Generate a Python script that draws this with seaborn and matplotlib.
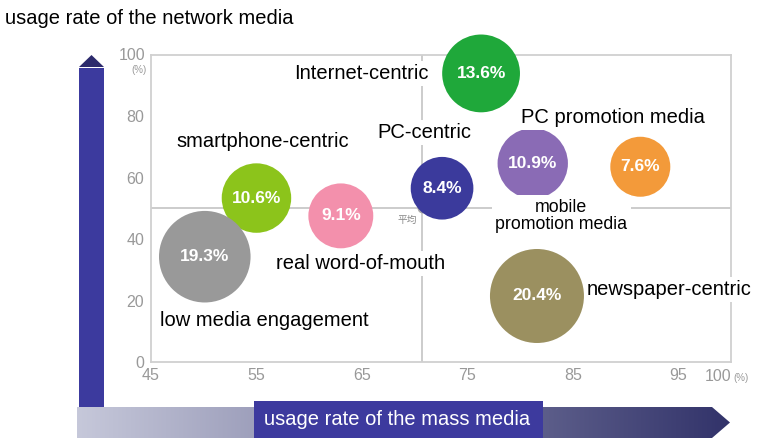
import numpy as np
import pandas as pd
import matplotlib
matplotlib.use("Agg")
import matplotlib.pyplot as plt
from matplotlib.patches import Polygon, Rectangle
import seaborn as sns

# ---- data -------------------------------------------------------------
categories = ["Internet-centric", "smartphone-centric", "low media engagement",
              "real word-of-mouth", "PC-centric", "mobile promotion media",
              "PC promotion media", "newspaper-centric"]
mass_rate = [76.3, 55.0, 50.1, 63.0, 72.6, 81.2, 91.4, 81.6]      # x, %
network_rate = [94.0, 53.4, 34.3, 47.6, 56.6, 64.7, 63.6, 21.5]   # y, %
share = [13.6, 10.6, 19.3, 9.1, 8.4, 10.9, 7.6, 20.4]             # bubble, %
colors = ["#1fa83a", "#8cc41b", "#999999", "#f390ac",
          "#3b3a9c", "#8a6bb5", "#f39a3a", "#9b9060"]
avg_mass = 70.7
avg_network = 50.0
x_ticks = [45, 55, 65, 75, 85, 95]
y_ticks = [0, 20, 40, 60, 80]

# label text and anchor (data coords) for each group
label_text = ["Internet-centric", "smartphone-centric", "low media engagement",
              "real word-of-mouth", "PC-centric", "mobile\npromotion media",
              "PC promotion media", "newspaper-centric"]
label_x = [64.95, 55.56, 55.7, 64.86, 70.96, 83.9, 88.8, 94.15]
label_y = [94.1, 71.7, 13.4, 32.2, 74.6, 47.6, 79.8, 23.5]

df = pd.DataFrame({"group": categories, "mass": mass_rate,
                   "network": network_rate, "share": share})

sns.set_style("white")
plt.rcParams["font.family"] = ["Liberation Sans", "DejaVu Sans"]

W, H = 764, 440
fig = plt.figure(figsize=(W / 100, H / 100), dpi=100)

# decorative background layer in pixel coordinates
bg = fig.add_axes([0, 0, 1, 1], zorder=0)
bg.set_xlim(0, W)
bg.set_ylim(H, 0)
bg.axis("off")

# vertical arrow (network media)
bg.add_patch(Rectangle((79, 68), 25, 342, color="#3c3a9e", lw=0))
bg.add_patch(Polygon([(79, 67), (104, 67), (91.5, 55)], closed=True,
                     color="#2c2a6c", lw=0))

# horizontal gradient arrow (mass media)
arrow = Polygon([(77, 407), (712, 407), (730, 422.5), (712, 438), (77, 438)],
                closed=True, facecolor="none", edgecolor="none")
bg.add_patch(arrow)
c0 = np.array(matplotlib.colors.to_rgb("#c6c8da"))
c1 = np.array(matplotlib.colors.to_rgb("#32336a"))
t = np.linspace(0, 1, 256)[None, :, None]
grad = c0 + (c1 - c0) * t
im = bg.imshow(grad, extent=(77, 730, 438, 407), aspect="auto", zorder=1)
im.set_clip_path(arrow)
bg.add_patch(Rectangle((254, 401), 289, 37, color="#3d3a9e", lw=0, zorder=2))
bg.text(397, 419.5, "usage rate of the mass media", color="white",
        fontsize=14.5, ha="center", va="center", zorder=3)
bg.text(5, 18, "usage rate of the network media", color="black",
        fontsize=14.5, ha="left", va="center")

# ---- main scatter -----------------------------------------------------
ax = fig.add_axes([151 / W, 1 - 362 / H, 580 / W, 307 / H], zorder=1)
ax.set_xlim(45, 100)
ax.set_ylim(0, 100)

ax.axvline(avg_mass, color="#c4c4c4", lw=1.2, zorder=1)
ax.axhline(avg_network, color="#c4c4c4", lw=1.2, zorder=1)
ax.plot([avg_mass], [avg_network], "o", color="#aaaaaa", ms=6, zorder=1)
ax.text(avg_mass - 1.4, avg_network - 3.7, "平均", fontsize=7, color="#888888",
        ha="center", va="center",
        family=["Noto Sans CJK JP", "DejaVu Sans"], zorder=2)

sns.scatterplot(data=df, x="mass", y="network", hue="group",
                palette=dict(zip(categories, colors)), size="share",
                sizes=(1866, 4580), size_norm=(7.6, 20.4),
                linewidth=0, alpha=1, legend=False, ax=ax, zorder=3)
for coll in ax.collections:
    coll.set_clip_on(False)

for xv, yv, v in zip(mass_rate, network_rate, share):
    ax.text(xv, yv, f"{v}%", color="white", fontsize=12.5, fontweight="bold",
            ha="center", va="center", zorder=4)

for txt, lx, ly in zip(label_text, label_x, label_y):
    small = "\n" in txt
    ax.text(lx, ly, txt, fontsize=12.8 if small else 14.5, color="black",
            ha="center", va="center", linespacing=1.05, zorder=5, clip_on=False,
            bbox=dict(boxstyle="square,pad=0.15" if not small else
                      "square,pad=0.2", fc="white", ec="none"))

# axes styling
for s in ax.spines.values():
    s.set_color("#d0d0d0")
    s.set_linewidth(1.3)
ax.set_xticks(x_ticks)
ax.set_yticks(y_ticks)
ax.set_xticklabels([str(v) for v in x_ticks])
ax.set_yticklabels([str(v) for v in y_ticks])
ax.tick_params(axis="x", direction="in", length=4, width=1, color="#cccccc",
               labelsize=11.5, labelcolor="#999999", pad=4)
ax.tick_params(axis="y", direction="out", length=3, width=1, color="#cccccc",
               labelsize=11.5, labelcolor="#999999", pad=2)
ax.set_xlabel("")
ax.set_ylabel("")

# end-of-axis labels with percent units
ax.text(100, -2.2, "100", fontsize=11.5, color="#999999",
        ha="right", va="top", clip_on=False)
ax.text(100.2, -3.5, "(%)", fontsize=7, color="#999999",
        ha="left", va="top", clip_on=False)
ax.text(44.45, 100, "100", fontsize=11.5, color="#999999",
        ha="right", va="center", clip_on=False)
ax.text(43.9, 95.2, "(%)", fontsize=7, color="#999999",
        ha="center", va="center", clip_on=False)

fig.savefig("out.png", dpi=100, facecolor="white")
